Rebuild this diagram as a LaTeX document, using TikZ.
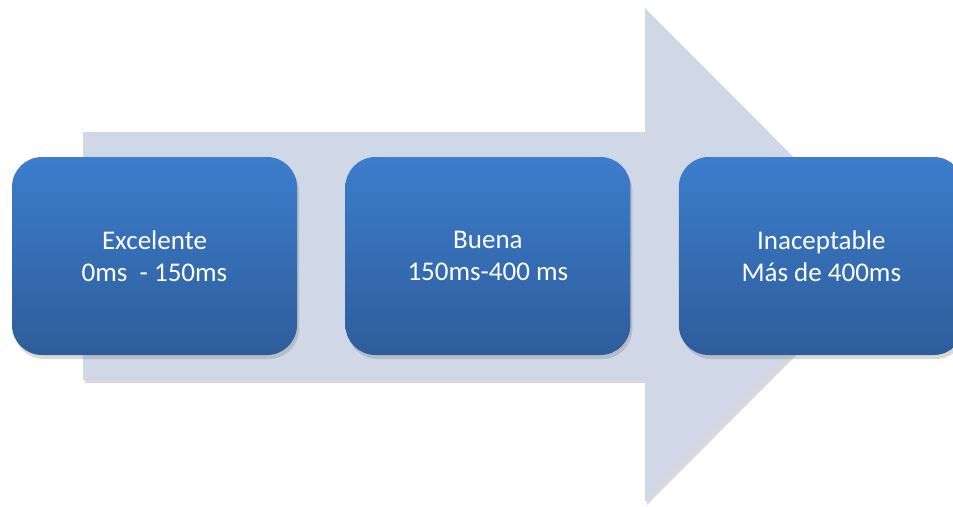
\documentclass[tikz,border=0pt]{standalone}
\usepackage{fontspec}
\setmainfont{Carlito}
\usepackage{tikz}
\usetikzlibrary{positioning,calc,shadows}
\definecolor{arrowcol}{RGB}{208,216,232}
\definecolor{boxtop}{RGB}{60,125,204}
\definecolor{boxbot}{RGB}{46,93,155}
\tikzset{stage/.style={rectangle,rounded corners=30pt,minimum width=285pt,minimum height=198pt,
    top color=boxtop,bottom color=boxbot,text=white,align=center,
    font=\fontsize{27}{32}\selectfont,
    drop shadow={shadow xshift=2pt,shadow yshift=-4pt,opacity=0.3}}}
\begin{document}
\begin{tikzpicture}[x=1pt,y=-1pt]
    \useasboundingbox (0,0) rectangle (953,506);
    % big background arrow
    \fill [arrowcol,drop shadow={shadow xshift=2pt,shadow yshift=-3pt,opacity=0.3}]
        (83,132) -- (645,132) -- (645,8) -- (891,255) -- (645,502) -- (645,380) -- (83,380) -- cycle;
    \node[stage] at (154.5,256) (exc) {Excelente\\0ms\ \ - 150ms};
    \node[stage,right=48pt of exc] (bue) {Buena\\150ms-400 ms};
    \node[stage,right=48pt of bue] (ina) {Inaceptable\\Más de 400ms};
\end{tikzpicture}
\end{document}
